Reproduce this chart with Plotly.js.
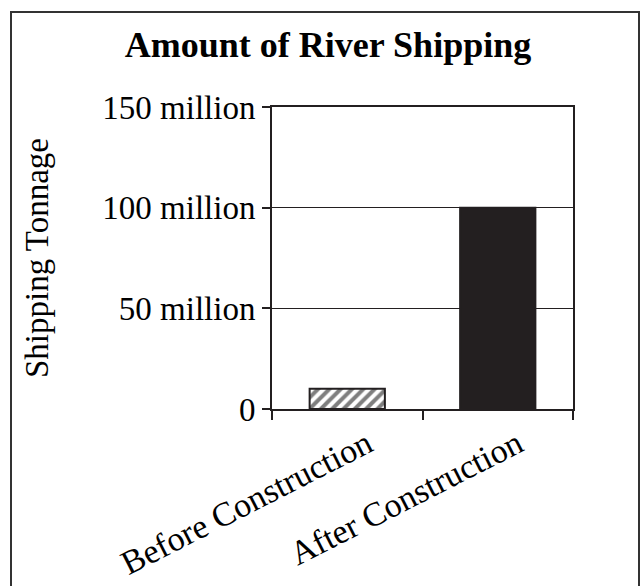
<!DOCTYPE html>
<html>
<head>
<meta charset="utf-8">
<script src="https://cdn.plot.ly/plotly-3.0.1.min.js"></script>
<style>
  html, body { margin: 0; padding: 0; background: #fff; }
  #wrap { position: relative; width: 640px; height: 586px; }
  #chart { width: 640px; height: 586px; }
  #frame {
    position: absolute; left: 10px; top: 11px; width: 626px; height: 600px;
    border: 2px solid #333; pointer-events: none;
  }
</style>
</head>
<body>
<div id="wrap">
  <div id="chart"></div>
  <div id="frame"></div>
</div>
<script>
// River shipping tonnage before and after construction
const categories = ['Before Construction', 'After Construction'];
const tonnage = [10000000, 100000000];
const tickValues = [0, 50000000, 100000000, 150000000];
const tickLabels = ['0', '50 million', '100 million', '150 million'];

const ink = '#231f20';
const serif = 'Liberation Serif, Times New Roman, serif';

// hatched bar for the period before construction
const beforeTrace = {
  type: 'bar',
  x: [categories[0]],
  y: [tonnage[0]],
  width: 0.5,
  marker: {
    color: '#ffffff',
    line: { color: ink, width: 2 },
    pattern: {
      shape: '/',
      fillmode: 'overlay',
      fgcolor: '#000000',
      size: 8,
      solidity: 0.5
    }
  },
  hoverinfo: 'none'
};

// solid bar for the period after construction
const afterTrace = {
  type: 'bar',
  x: [categories[1]],
  y: [tonnage[1]],
  width: 0.5,
  marker: {
    color: ink,
    line: { color: ink, width: 2 }
  },
  hoverinfo: 'none'
};

const layout = {
  width: 640,
  height: 586,
  margin: { l: 272, r: 67, t: 107, b: 177 },
  barmode: 'overlay',
  paper_bgcolor: '#ffffff',
  plot_bgcolor: '#ffffff',
  showlegend: false,
  font: { family: serif, color: '#000', size: 32 },
  title: {
    text: '<b>Amount of River Shipping</b>',
    font: { family: serif, size: 36, color: '#000' },
    x: 0.5125, xref: 'container', xanchor: 'center',
    y: 0.925, yref: 'container', yanchor: 'middle'
  },
  xaxis: {
    type: 'category',
    categoryarray: categories,
    showline: true, linecolor: ink, linewidth: 2, mirror: true,
    ticks: 'outside', tickson: 'boundaries', ticklen: 9, tickwidth: 2, tickcolor: ink,
    tickangle: -27,
    ticklabelshift: 20,
    tickfont: { family: serif, size: 34, color: '#000' },
    showgrid: false, zeroline: false, fixedrange: true
  },
  yaxis: {
    range: [0, 150000000],
    tickvals: tickValues,
    ticktext: tickLabels,
    showline: true, linecolor: ink, linewidth: 2, mirror: true,
    ticks: 'outside', ticklen: 8, tickwidth: 2, tickcolor: ink,
    tickfont: { family: serif, size: 33, color: '#000' },
    showgrid: true, gridcolor: ink, gridwidth: 1,
    zeroline: false, fixedrange: true,
    title: { text: 'Shipping Tonnage', font: { family: serif, size: 33, color: '#000' }, standoff: 44 }
  }
};

Plotly.newPlot('chart', [beforeTrace, afterTrace], layout, { displayModeBar: false, staticPlot: true });
</script>
</body>
</html>
